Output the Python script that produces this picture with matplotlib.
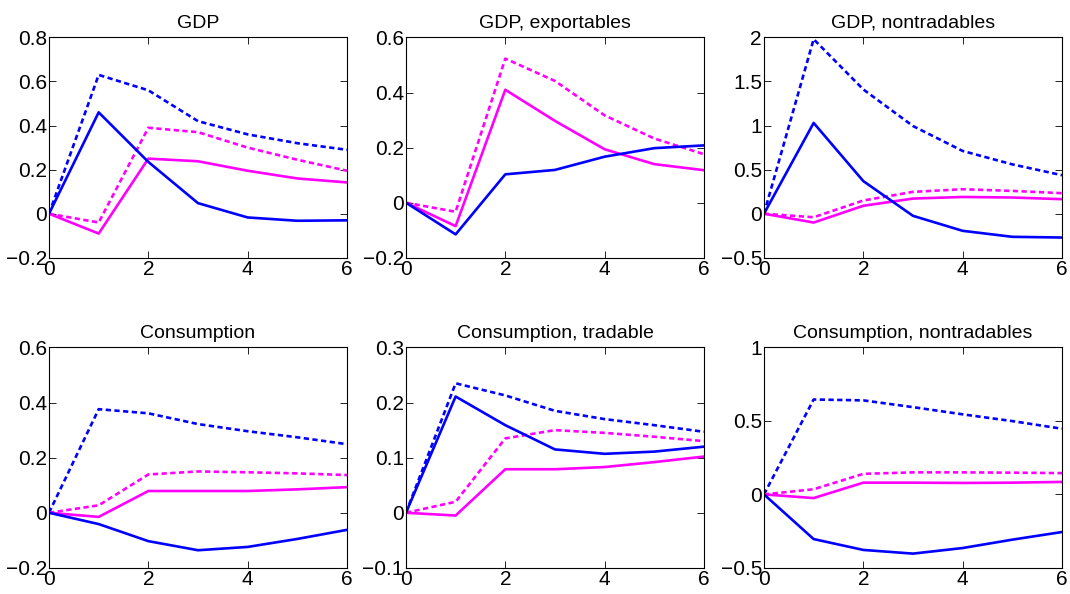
import matplotlib
matplotlib.use("Agg")
import matplotlib.pyplot as plt

plt.rcParams['font.family'] = ['Liberation Sans', 'DejaVu Sans']

horizons = [0, 1, 2, 3, 4, 5, 6]

titles = ['GDP', 'GDP, exportables', 'GDP, nontradables',
          'Consumption', 'Consumption, tradable', 'Consumption, nontradables']

# blue solid, blue dotted, magenta solid, magenta dotted (None = not shown)
gdp_blue = [0, 0.46, 0.235, 0.048, -0.017, -0.032, -0.03]
gdp_blue_dot = [0, 0.63, 0.56, 0.42, 0.36, 0.32, 0.29]
gdp_mag = [0, -0.09, 0.25, 0.238, 0.195, 0.16, 0.142]
gdp_mag_dot = [0, -0.04, 0.39, 0.37, 0.30, 0.245, 0.195]

exp_blue = [0, -0.115, 0.103, 0.119, 0.167, 0.198, 0.208]
exp_blue_dot = None
exp_mag = [0, -0.085, 0.41, 0.297, 0.194, 0.14, 0.118]
exp_mag_dot = [0, -0.033, 0.523, 0.442, 0.317, 0.233, 0.176]

ntr_blue = [0, 1.03, 0.37, -0.024, -0.194, -0.262, -0.27]
ntr_blue_dot = [0, 1.98, 1.41, 0.995, 0.712, 0.56, 0.437]
ntr_mag = [0, -0.1, 0.09, 0.172, 0.19, 0.184, 0.165]
ntr_mag_dot = [0, -0.04, 0.15, 0.248, 0.278, 0.259, 0.233]

con_blue = [0, -0.041, -0.103, -0.136, -0.124, -0.095, -0.062]
con_blue_dot = [0, 0.376, 0.361, 0.322, 0.296, 0.274, 0.249]
con_mag = [0, -0.015, 0.079, 0.079, 0.079, 0.085, 0.093]
con_mag_dot = [0, 0.027, 0.139, 0.15, 0.147, 0.143, 0.137]

cT_blue = [0, 0.211, 0.159, 0.115, 0.107, 0.111, 0.12]
cT_blue_dot = [0, 0.235, 0.213, 0.185, 0.17, 0.159, 0.147]
cT_mag = [0, -0.005, 0.079, 0.079, 0.083, 0.092, 0.102]
cT_mag_dot = [0, 0.02, 0.135, 0.15, 0.145, 0.138, 0.13]

cN_blue = [0, -0.304, -0.378, -0.403, -0.365, -0.308, -0.256]
cN_blue_dot = [0, 0.646, 0.64, 0.594, 0.545, 0.499, 0.447]
cN_mag = [0, -0.025, 0.08, 0.08, 0.078, 0.08, 0.085]
cN_mag_dot = [0, 0.035, 0.14, 0.15, 0.15, 0.148, 0.145]

panels = [
    (gdp_blue, gdp_blue_dot, gdp_mag, gdp_mag_dot),
    (exp_blue, exp_blue_dot, exp_mag, exp_mag_dot),
    (ntr_blue, ntr_blue_dot, ntr_mag, ntr_mag_dot),
    (con_blue, con_blue_dot, con_mag, con_mag_dot),
    (cT_blue, cT_blue_dot, cT_mag, cT_mag_dot),
    (cN_blue, cN_blue_dot, cN_mag, cN_mag_dot),
]

ylims = [(-0.2, 0.8), (-0.2, 0.6), (-0.5, 2), (-0.2, 0.6), (-0.1, 0.3), (-0.5, 1)]
ysteps = [0.2, 0.2, 0.5, 0.2, 0.1, 0.5]

fig = plt.figure(figsize=(10.7, 5.94), dpi=100)
lefts = [0.0458, 0.3794, 0.714]
bottoms = [0.566, 0.044]
w, h = 0.2785, 0.371

dots = (2.0, 1.3)
for i, (series, title) in enumerate(zip(panels, titles)):
    ax = fig.add_axes([lefts[i % 3], bottoms[i // 3], w, h])
    blue, blue_dot, mag, mag_dot = series
    if blue_dot is not None:
        ax.plot(horizons, blue_dot, color='#0000ff', lw=1.9, dashes=dots)
    ax.plot(horizons, mag_dot, color='#ff00ff', lw=1.9, dashes=dots)
    ax.plot(horizons, mag, color='#ff00ff', lw=1.9)
    ax.plot(horizons, blue, color='#0000ff', lw=1.9)

    lo, hi = ylims[i]
    ax.set_xlim(0, 6)
    ax.set_ylim(lo, hi)
    ax.set_xticks([0, 2, 4, 6])
    step = ysteps[i]
    n = int(round((hi - lo) / step))
    ticks = [round(lo + k * step, 2) for k in range(n + 1)]
    ax.set_yticks(ticks)
    ax.set_yticklabels([('%g' % t).replace('-', '\u2212') if t != 0 else '0'
                        for t in ticks])
    ax.tick_params(direction='in', top=True, right=True, length=5,
                   width=0.6, labelsize=15, pad=1.5)
    for s in ax.spines.values():
        s.set_linewidth(0.8)
    ax.set_title(title, fontsize=14, pad=7)

fig.savefig('out.png', dpi=100)
